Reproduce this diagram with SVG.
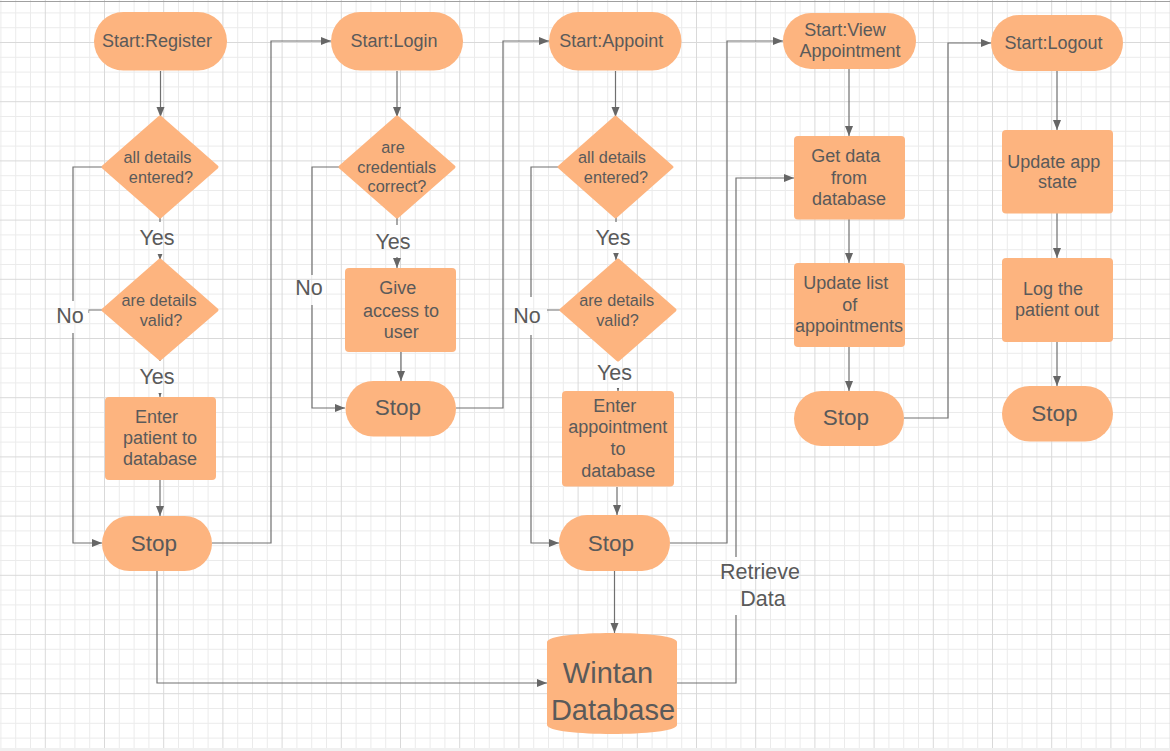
<svg xmlns="http://www.w3.org/2000/svg" width="1170" height="751" viewBox="0 0 1170 751">
<defs>
<pattern id="grid" x="-14.4" y="-17.2" width="59.2" height="59.2" patternUnits="userSpaceOnUse">
<rect x="14.8" y="0" width="1" height="59.2" fill="#ebebeb"/>
<rect x="29.6" y="0" width="1" height="59.2" fill="#ebebeb"/>
<rect x="44.4" y="0" width="1" height="59.2" fill="#ebebeb"/>
<rect x="0" y="14.8" width="59.2" height="1" fill="#ebebeb"/>
<rect x="0" y="29.6" width="59.2" height="1" fill="#ebebeb"/>
<rect x="0" y="44.4" width="59.2" height="1" fill="#ebebeb"/>
<rect x="0" y="0" width="1" height="59.2" fill="#d9d9d9"/>
<rect x="0" y="0" width="59.2" height="1" fill="#d9d9d9"/>
</pattern>
<marker id="arr" markerUnits="userSpaceOnUse" markerWidth="11" markerHeight="9" refX="10" refY="4.5" orient="auto">
<path d="M0,0.5 L10,4.5 L0,8.5 z" fill="#666"/>
</marker>
<mask id="gaps" maskUnits="userSpaceOnUse" x="0" y="0" width="1170" height="751">
<rect x="0" y="0" width="1170" height="751" fill="#fff"/>
<rect x="136" y="222" width="42" height="32" fill="#000"/>
<rect x="136" y="361" width="42" height="32" fill="#000"/>
<rect x="54" y="301" width="34.5" height="32" fill="#000"/>
<rect x="372" y="225" width="42" height="32" fill="#000"/>
<rect x="293" y="275" width="33" height="30" fill="#000"/>
<rect x="592" y="222" width="42" height="31" fill="#000"/>
<rect x="593" y="357" width="43" height="31" fill="#000"/>
<rect x="510" y="297" width="37" height="38" fill="#000"/>
<rect x="715" y="557" width="91" height="58" fill="#000"/>
</mask>
</defs>
<style>
.shape{fill:#fdb47f;}
.t{font-family:"Liberation Sans",Arial,sans-serif;fill:#5a5a5a;text-anchor:middle;}
.s18{font-size:18px;}
.s16{font-size:16.3px;}
.s22{font-size:22.5px;}
.lbl{font-family:"Liberation Sans",Arial,sans-serif;fill:#5a5a5a;text-anchor:middle;font-size:21.5px;}
.c{fill:none;stroke:#707070;stroke-width:1.2;}
.ca{fill:none;stroke:#707070;stroke-width:1.2;marker-end:url(#arr);}
</style>
<rect x="0" y="0" width="1170" height="751" fill="#ffffff"/>
<rect x="0" y="0" width="1170" height="748" fill="url(#grid)"/>
<rect x="0" y="748" width="1170" height="3" fill="#f0f0f0"/>
<line x1="0" y1="1.5" x2="1170" y2="1.5" stroke="#a0a0a0" stroke-width="1"/>

<g id="connectors">
<g mask="url(#gaps)">
<path class="ca" d="M160.5,71 V117"/>
<path class="ca" d="M160,217 V260"/>
<path class="ca" d="M160,359 V397"/>
<path class="ca" d="M160,480 V516"/>
<path class="ca" d="M103,167 H73 V543 H102"/>
<path class="c" d="M103,310 H88.5 V313"/>
<path class="ca" d="M212,543 H271 V41 H331"/>
<path class="ca" d="M157,571 V683 H547"/>
<path class="ca" d="M397,71 V117"/>
<path class="ca" d="M397,217 V268"/>
<path class="ca" d="M401,352 V381"/>
<path class="ca" d="M340,167 H312 V408 H345"/>
<path class="ca" d="M456,408 H503 V41 H549"/>
<path class="ca" d="M615.5,71 V117"/>
<path class="ca" d="M616,217 V260"/>
<path class="ca" d="M618,360 V391"/>
<path class="ca" d="M617,487 V515"/>
<path class="ca" d="M559,167 H531 V543 H559"/>
<path class="c" d="M561,310 H546.5 V313"/>
<path class="ca" d="M614.5,571 V633"/>
<path class="ca" d="M670,543 H727 V41 H783"/>
<path class="ca" d="M677,683 H736 V178 H794"/>
<path class="ca" d="M849,69 V136"/>
<path class="ca" d="M849,219 V263"/>
<path class="ca" d="M849,347 V391"/>
<path class="ca" d="M904,418 H948 V43 H991"/>
<path class="ca" d="M1057,71 V130"/>
<path class="ca" d="M1057,213 V258"/>
<path class="ca" d="M1057,342 V386"/>
</g>
<text class="lbl" x="157" y="244.5">Yes</text>
<text class="lbl" x="157" y="383.5">Yes</text>
<text class="lbl" x="70" y="322.5">No</text>
<text class="lbl" x="393" y="248.5">Yes</text>
<text class="lbl" x="309" y="294.5">No</text>
<text class="lbl" x="613" y="244.5">Yes</text>
<text class="lbl" x="614.5" y="379.5">Yes</text>
<text class="lbl" x="527" y="322.5">No</text>
<text class="lbl" x="760" y="578.5">Retrieve</text>
<text class="lbl" x="763" y="605.5">Data</text>
</g>

<g id="start-register">
<rect class="shape" x="94" y="12" width="133" height="58.5" rx="29.25"/>
<text class="t s18" x="157" y="47">Start:Register</text>
</g>
<g id="reg-entered">
<path class="shape" d="M160,117 L217,167 L160,217 L103,167 Z" stroke="#fdb47f" stroke-width="3" stroke-linejoin="round"/>
<text class="t s16" x="157.5" y="163">all details</text>
<text class="t s16" x="161" y="183">entered?</text>
</g>
<g id="reg-valid">
<path class="shape" d="M160,260 L217,310 L160,359 L103,310 Z" stroke="#fdb47f" stroke-width="3" stroke-linejoin="round"/>
<text class="t s16" x="159" y="306">are details</text>
<text class="t s16" x="161" y="326">valid?</text>
</g>
<g id="reg-enter">
<rect class="shape" x="105" y="397" width="111" height="83" rx="4"/>
<text class="t s18" x="156.5" y="422.5">Enter</text>
<text class="t s18" x="160" y="444">patient to</text>
<text class="t s18" x="160" y="464.5">database</text>
</g>
<g id="reg-stop">
<rect class="shape" x="102" y="516" width="110" height="55" rx="27.5"/>
<text class="t s22" x="154" y="551">Stop</text>
</g>

<g id="start-login">
<rect class="shape" x="331" y="12" width="132" height="58.5" rx="29.25"/>
<text class="t s18" x="394" y="47">Start:Login</text>
</g>
<g id="login-cred">
<path class="shape" d="M397,117 L454,167 L397,217 L340,167 Z" stroke="#fdb47f" stroke-width="3" stroke-linejoin="round"/>
<text class="t s16" x="393" y="153">are</text>
<text class="t s16" x="396.7" y="173">credentials</text>
<text class="t s16" x="397" y="192">correct?</text>
</g>
<g id="login-give">
<rect class="shape" x="345" y="268" width="111" height="84" rx="4"/>
<text class="t s18" x="397.7" y="293.5">Give</text>
<text class="t s18" x="401" y="316.5">access to</text>
<text class="t s18" x="401.3" y="337.5">user</text>
</g>
<g id="login-stop">
<rect class="shape" x="345.5" y="381" width="110.5" height="55.5" rx="27.75"/>
<text class="t s22" x="398" y="414.5">Stop</text>
</g>

<g id="start-appoint">
<rect class="shape" x="549" y="12" width="132.5" height="58.5" rx="29.25"/>
<text class="t s18" x="611.3" y="47">Start:Appoint</text>
</g>
<g id="app-entered">
<path class="shape" d="M615.5,117 L672,167 L615.5,217 L559,167 Z" stroke="#fdb47f" stroke-width="3" stroke-linejoin="round"/>
<text class="t s16" x="612" y="163">all details</text>
<text class="t s16" x="616" y="183">entered?</text>
</g>
<g id="app-valid">
<path class="shape" d="M618,260 L675,310 L618,360 L561,310 Z" stroke="#fdb47f" stroke-width="3" stroke-linejoin="round"/>
<text class="t s16" x="616.7" y="306">are details</text>
<text class="t s16" x="617.5" y="326">valid?</text>
</g>
<g id="app-enter">
<rect class="shape" x="562" y="391" width="112" height="95.5" rx="4"/>
<text class="t s18" x="614.7" y="412">Enter</text>
<text class="t s18" x="617.8" y="433">appointment</text>
<text class="t s18" x="618" y="454.5">to</text>
<text class="t s18" x="618.3" y="476.5">database</text>
</g>
<g id="app-stop">
<rect class="shape" x="559" y="515" width="111" height="56" rx="28"/>
<text class="t s22" x="611" y="550.5">Stop</text>
</g>

<g id="database">
<path class="shape" d="M547,642 C547,636 580,633 612,633 C644,633 677,636 677,642 L677,725 C677,731 644,734 612,734 C580,734 547,731 547,725 Z"/>
<text class="t" style="font-size:29px" x="608" y="682.5">Wintan</text>
<text class="t" style="font-size:29px" x="613" y="719.5">Database</text>
</g>

<g id="start-view">
<rect class="shape" x="783" y="13" width="133" height="56" rx="28"/>
<text class="t s18" x="845" y="35.5">Start:View</text>
<text class="t s18" x="850" y="57">Appointment</text>
</g>
<g id="view-get">
<rect class="shape" x="794" y="136" width="111" height="83.5" rx="4"/>
<text class="t s18" x="845.8" y="162">Get data</text>
<text class="t s18" x="849" y="183.5">from</text>
<text class="t s18" x="849" y="205">database</text>
</g>
<g id="view-update">
<rect class="shape" x="794" y="263" width="111" height="84" rx="4"/>
<text class="t s18" x="845.8" y="289">Update list</text>
<text class="t s18" x="849.7" y="310.5">of</text>
<text class="t s18" x="849" y="332">appointments</text>
</g>
<g id="view-stop">
<rect class="shape" x="794" y="391" width="110" height="55" rx="27.5"/>
<text class="t s22" x="846" y="424.5">Stop</text>
</g>

<g id="start-logout">
<rect class="shape" x="991" y="15" width="132" height="56" rx="28"/>
<text class="t s18" x="1053.5" y="49">Start:Logout</text>
</g>
<g id="logout-update">
<rect class="shape" x="1002" y="130" width="111" height="83.5" rx="4"/>
<text class="t s18" x="1053.7" y="167.5">Update app</text>
<text class="t s18" x="1057.5" y="188">state</text>
</g>
<g id="logout-log">
<rect class="shape" x="1002" y="258" width="111" height="84" rx="4"/>
<text class="t s18" x="1053" y="294.5">Log the</text>
<text class="t s18" x="1057" y="315.5">patient out</text>
</g>
<g id="logout-stop">
<rect class="shape" x="1002" y="386" width="111" height="55.5" rx="27.75"/>
<text class="t s22" x="1054.3" y="421">Stop</text>
</g>
</svg>
